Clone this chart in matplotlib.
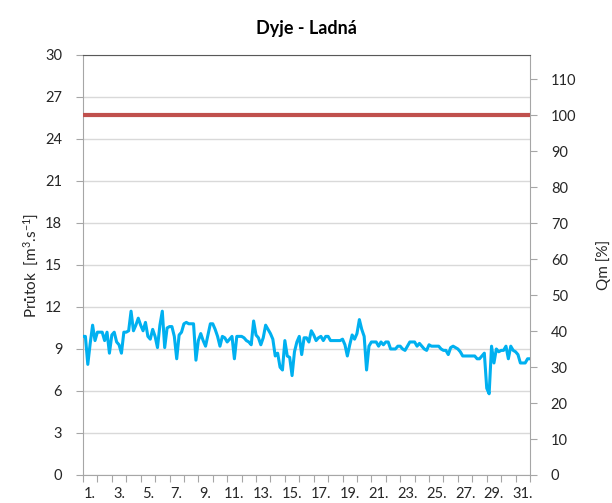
import numpy as np
import matplotlib
matplotlib.use("Agg")
import matplotlib.pyplot as plt

# long-term mean flow Qm [m3/s] (100 % on the right axis)
qm_flow = 25.7

# flow readings, 6 per day (every 4 hours), 1st to 31st
samples_per_day = 6
flow = [
    9.9, 9.9, 7.9, 9.4, 10.7, 9.6, 10.2, 10.2, 10.2, 9.6,
    10.2, 8.7, 10.0, 10.2, 9.5, 9.3, 8.7, 10.2, 10.2, 10.3,
    11.7, 10.3, 10.7, 11.2, 10.7, 10.3, 10.9, 9.9, 9.7, 10.4,
    9.9, 9.1, 10.7, 11.7, 9.1, 10.5, 10.6, 10.6, 9.9, 8.3,
    10.0, 10.2, 10.8, 10.9, 10.8, 10.8, 10.8, 8.2, 9.6, 10.1,
    9.6, 9.2, 10.0, 10.8, 10.8, 10.4, 9.9, 9.2, 9.9, 9.8,
    9.5, 9.7, 9.9, 8.3, 9.9, 9.9, 9.9, 9.8, 9.6, 9.5,
    9.3, 11.0, 10.0, 9.8, 9.3, 9.8, 10.7, 10.4, 10.1, 9.7,
    8.5, 8.7, 7.7, 7.5, 9.6, 8.5, 8.4, 7.1, 8.8, 9.5,
    9.9, 8.6, 9.8, 9.8, 9.5, 10.3, 10.0, 9.6, 9.8, 9.9,
    9.6, 9.9, 9.9, 9.6, 9.6, 9.6, 9.6, 9.6, 9.7, 9.3,
    8.5, 9.3, 10.0, 9.7, 10.1, 11.1, 10.4, 9.9, 7.5, 9.2,
    9.5, 9.5, 9.5, 9.2, 9.5, 9.3, 9.5, 9.5, 9.0, 9.0,
    9.0, 9.2, 9.2, 9.0, 8.9, 9.2, 9.5, 9.5, 9.5, 9.2,
    9.4, 9.2, 9.0, 8.9, 9.3, 9.2, 9.2, 9.2, 9.2, 9.0,
    8.9, 8.9, 8.6, 9.1, 9.2, 9.1, 9.0, 8.8, 8.5, 8.5,
    8.5, 8.5, 8.5, 8.5, 8.3, 8.3, 8.5, 8.7, 6.2, 5.8,
    9.2, 8.0, 9.0, 8.8, 8.9, 8.9, 9.2, 8.3, 9.2, 8.9,
    8.8, 8.6, 8.0, 8.0, 8.0, 8.3, 8.3,
]

days = np.arange(1, 32)
day_labels = [f"{d}." for d in days[::2]]
left_ticks = np.arange(0, 31, 3)
right_ticks = np.arange(0, 111, 10)

plt.rcParams["font.family"] = ["Lato", "DejaVu Sans"]
plt.rcParams["mathtext.fontset"] = "custom"
plt.rcParams["mathtext.rm"] = "Lato"
plt.rcParams["mathtext.it"] = "Lato:italic"

text_col = "#262626"
axis_col = "#A6A6A6"

fig = plt.figure(figsize=(6.12, 5.03), dpi=100)
ax = fig.add_axes([0.1356, 0.0557, 0.7304, 0.835])

t = 0.5 + np.arange(len(flow)) / samples_per_day
ax.plot(t, flow, color="#00B0F0", lw=2.2, solid_joinstyle="round", zorder=3)
ax.axhline(qm_flow, color="#C0504D", lw=3, zorder=4)

ax.set_xlim(0.5, 31.5)
ax.set_ylim(0, 30)
ax.set_yticks(left_ticks)
ax.set_yticklabels([str(v) for v in left_ticks])
ax.yaxis.grid(True, color="#D9D9D9", lw=1)
ax.set_axisbelow(True)

# day boundaries as ticks, labels on every second day
ax.set_xticks(np.arange(0.5, 32, 1))
ax.set_xticklabels([])
ax.set_xticks(days[::2], minor=True)
ax.set_xticklabels(day_labels, minor=True)
ax.tick_params(axis="x", which="major", length=5, color=axis_col, direction="out")
ax.tick_params(axis="x", which="minor", length=0, pad=9, labelsize=10.5, labelcolor=text_col)
ax.tick_params(axis="y", length=5, color=axis_col, labelsize=10.5, labelcolor=text_col, pad=10)

for side in ["left", "bottom", "right"]:
    ax.spines[side].set_color(axis_col)
ax.spines["top"].set_color("#595959")

ax.set_ylabel("Průtok  [m$^3$.s$^{-1}$]", fontsize=11, color=text_col, labelpad=3)
ax.set_title("Dyje - Ladná", fontsize=13, fontweight="bold", color="#000000", pad=15)

ax2 = ax.twinx()
ax2.set_ylim(0, 30 / qm_flow * 100)
ax2.set_yticks(right_ticks)
ax2.set_yticklabels([str(v) for v in right_ticks])
ax2.tick_params(axis="y", length=5, color=axis_col, labelsize=10.5, labelcolor=text_col, pad=10)
for side in ["left", "bottom", "right", "top"]:
    ax2.spines[side].set_visible(False)
ax2.set_ylabel("Qm [%]", fontsize=11, color=text_col, labelpad=14)

fig.savefig("out.png", dpi=100)
